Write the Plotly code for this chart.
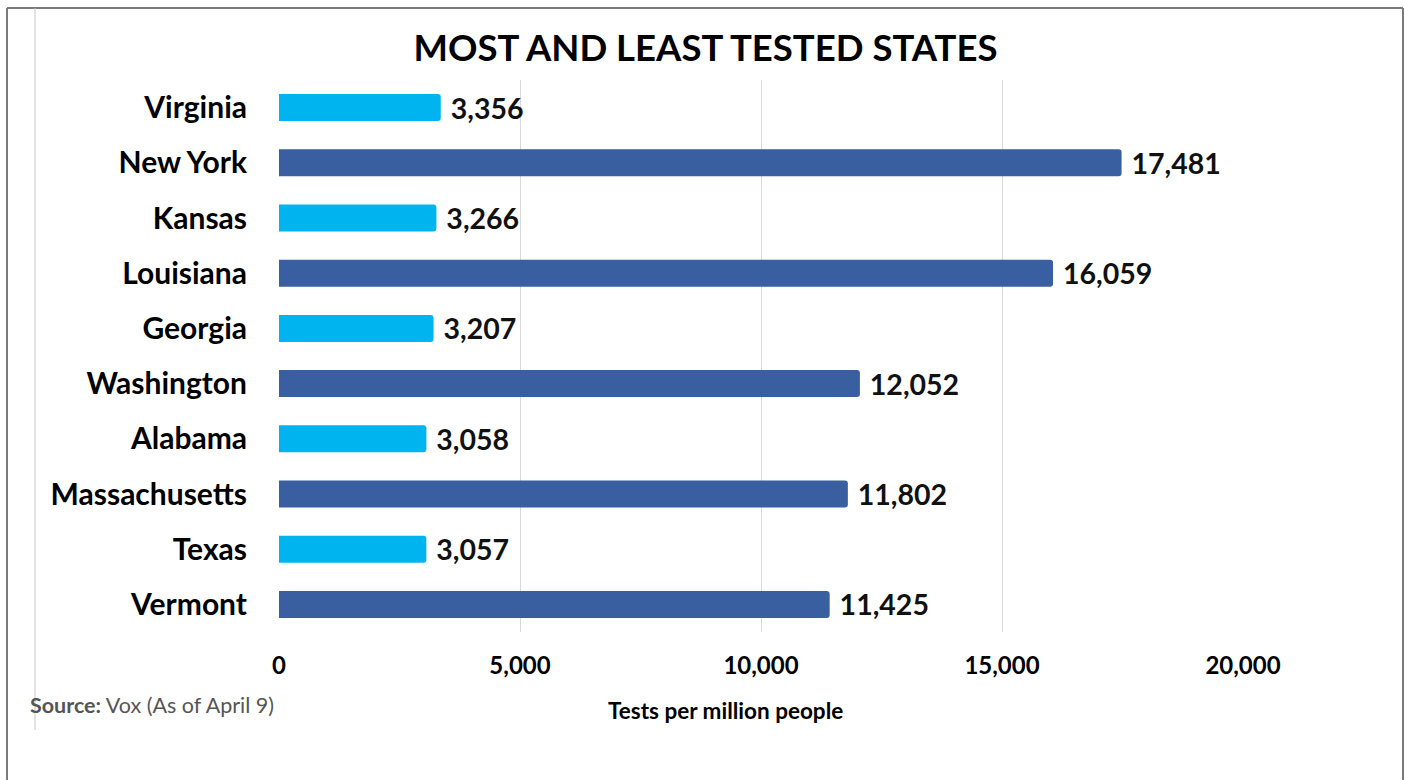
import plotly.graph_objects as go

# Tests per million people, top to bottom
states = ["Virginia", "New York", "Kansas", "Louisiana", "Georgia",
          "Washington", "Alabama", "Massachusetts", "Texas", "Vermont"]
tests_per_million = [3356, 17481, 3266, 16059, 3207, 12052, 3058, 11802, 3057, 11425]
group = ["least", "most", "least", "most", "least",
         "most", "least", "most", "least", "most"]
x_ticks = [0, 5000, 10000, 15000, 20000]
x_tick_labels = ["0", "5,000", "10,000", "15,000", "20,000"]

palette = {"most": "#3A5FA0", "least": "#00B5EF"}
FONT = "Lato"

W, H = 1404, 780
L, R, T, B = 279, 1243, 80, 632  # plot area in pixels


def px_x(p):
    return (p - L) / (R - L)


def px_y(p):
    return (B - p) / (B - T)


fig = go.Figure(go.Bar(
    y=states,
    x=tests_per_million,
    orientation="h",
    marker=dict(color=[palette[g] for g in group], line=dict(width=0)),
    width=0.49,
    text=["\u00a0" + f"{v:,}" for v in tests_per_million],
    textposition="outside",
    constraintext="none",
    textfont=dict(family=FONT, size=28.5, color="#111111", weight="bold"),
    cliponaxis=False,
    hoverinfo="skip",
))

# frame around the graphic
frame = dict(type="line", xref="paper", yref="paper",
             line=dict(color="#7a7a7a", width=2))
shapes = [
    dict(frame, x0=px_x(7), x1=px_x(1403), y0=px_y(8), y1=px_y(8)),
    dict(frame, x0=px_x(7), x1=px_x(7), y0=px_y(8), y1=px_y(780)),
    dict(frame, x0=px_x(1403), x1=px_x(1403), y0=px_y(8), y1=px_y(780)),
    dict(type="line", xref="paper", yref="paper",
         x0=px_x(35), x1=px_x(35), y0=px_y(8), y1=px_y(730),
         line=dict(color="#c8c8c8", width=1)),
]

fig.update_layout(
    width=W, height=H,
    margin=dict(l=L, r=W - R, t=T, b=H - B, pad=0),
    paper_bgcolor="white", plot_bgcolor="white",
    barcornerradius=3,
    showlegend=False,
    shapes=shapes,
    title=dict(text="<b>MOST AND LEAST TESTED STATES</b>",
               font=dict(family=FONT, size=36.5, color="#000000"),
               x=705.5 / W, xanchor="center",
               y=1 - 48 / H, yanchor="middle"),
    xaxis=dict(range=[0, 20000], tickvals=x_ticks, ticktext=x_tick_labels,
               showgrid=True, gridcolor="#d9d9d9", gridwidth=1,
               zeroline=False, showline=False, ticks="",
               ticklabelstandoff=17,
               tickfont=dict(family=FONT, size=24, color="#000000", weight="bold"),
               fixedrange=True),
    yaxis=dict(autorange="reversed", showgrid=False, zeroline=False,
               showline=False, ticks="", ticklabelstandoff=31,
               tickfont=dict(family=FONT, size=30, color="#000000", weight="bold"),
               fixedrange=True),
    annotations=[
        dict(text="<b>Tests per million people</b>", xref="paper", yref="paper",
             x=px_x(725), y=px_y(710), xanchor="center", yanchor="middle",
             showarrow=False, font=dict(family=FONT, size=22.5, color="#000000")),
        dict(text="<b>Source:</b> Vox (As of April 9)", xref="paper", yref="paper",
             x=px_x(28), y=px_y(705), xanchor="left", yanchor="middle",
             showarrow=False, font=dict(family=FONT, size=21.5, color="#555555")),
    ],
)

fig.write_html("out.html")
